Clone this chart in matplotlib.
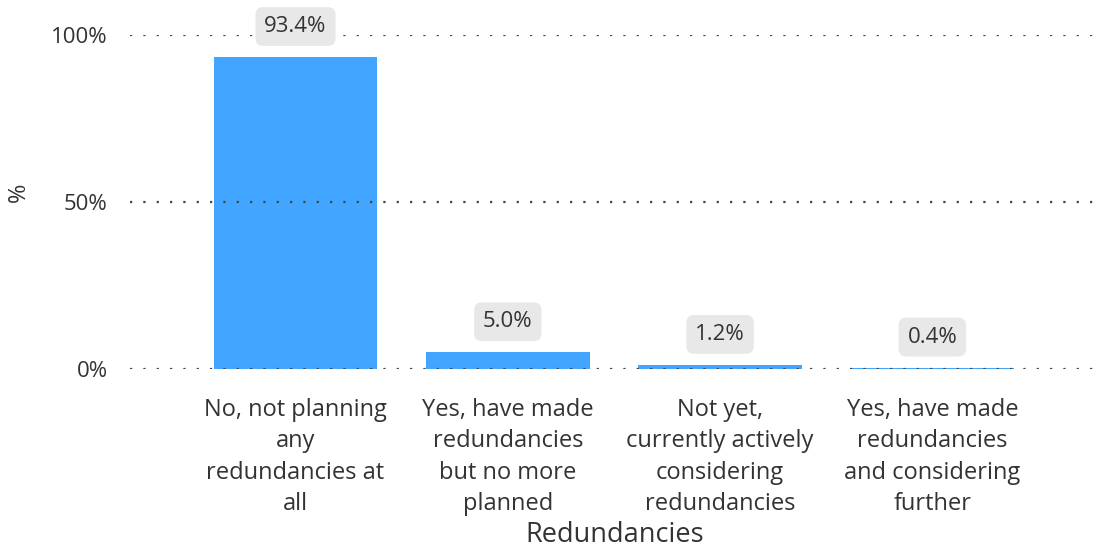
import numpy as np
import matplotlib
matplotlib.use('Agg')
import matplotlib.pyplot as plt
from matplotlib.ticker import FuncFormatter

plt.rcParams['font.family'] = ['Open Sans', 'DejaVu Sans']

# ── Redundancy survey responses ──
categories = [
    "No, not planning\nany\nredundancies at\nall",
    "Yes, have made\nredundancies\nbut no more\nplanned",
    "Not yet,\ncurrently actively\nconsidering\nredundancies",
    "Yes, have made\nredundancies\nand considering\nfurther",
]
shares = [93.4, 5.0, 1.2, 0.4]
y_ticks = [0, 50, 100]

BAR_COLOR = '#42a5ff'
TEXT_COLOR = '#333333'

fig = plt.figure(figsize=(11.02, 5.49), dpi=100)
ax = fig.add_axes([130 / 1102, 1 - 369 / 549, 970 / 1102, 334 / 549])

x = np.arange(len(categories))
ax.bar(x, shares, width=0.77, color=BAR_COLOR, zorder=1)

for xi, val in zip(x, shares):
    ax.annotate(f'{val:.1f}%', xy=(xi, val), xytext=(0, 22), textcoords='offset points',
                ha='center', va='center', fontsize=16, color=TEXT_COLOR, zorder=4,
                bbox=dict(boxstyle='round,pad=0.4,rounding_size=0.35',
                          facecolor='#e8e8e8', edgecolor='none'))

ax.set_xlim(-0.78, 3.79)
ax.set_ylim(0, 100)
ax.set_yticks(y_ticks)
ax.yaxis.set_major_formatter(FuncFormatter(lambda v, _: f'{v:.0f}%'))
ax.set_xticks(x)
ax.set_xticklabels(categories, fontsize=17, color=TEXT_COLOR, linespacing=1.4)
ax.tick_params(axis='y', labelsize=16, labelcolor=TEXT_COLOR, length=0, pad=16)
ax.tick_params(axis='x', length=0, pad=21)

ax.grid(axis='y', linestyle=(0, (1, 5)), color='#444444', linewidth=1.6, zorder=3)
ax.set_axisbelow(False)
for s in ax.spines.values():
    s.set_visible(False)

ax.set_ylabel('%', fontsize=17, color=TEXT_COLOR, va='center')
ax.yaxis.set_label_coords(-0.115, 0.53)
ax.set_xlabel('Redundancies', fontsize=19.5, color=TEXT_COLOR, va='center')
ax.xaxis.set_label_coords(0.5, -0.497)

fig.savefig('out.png', dpi=100)
